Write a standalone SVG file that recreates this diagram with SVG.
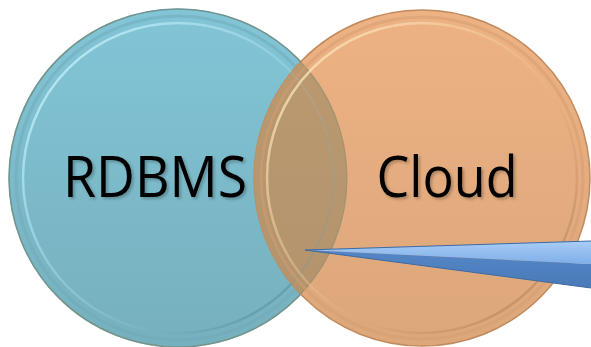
<svg xmlns="http://www.w3.org/2000/svg" width="591" height="347" viewBox="0 0 591 347">
<style>
.lbl{font-family:"Open Sans","Noto Sans","Liberation Sans",sans-serif;font-size:56px;fill:#000;filter:url(#txtShadow)}
</style>
<defs>
<filter id="txtShadow" x="-10%" y="-20%" width="130%" height="150%">
<feDropShadow dx="2" dy="2" stdDeviation="1.5" flood-color="#000" flood-opacity="0.25"/>
</filter>
<linearGradient id="gBlue" x1="0" y1="0" x2="0" y2="1">
<stop offset="0" stop-color="#82c5d7"/>
<stop offset="1" stop-color="#76b0bd"/>
</linearGradient>
<linearGradient id="gOrange" x1="0" y1="0" x2="0" y2="1">
<stop offset="0" stop-color="#edb284"/>
<stop offset="1" stop-color="#dca77a"/>
</linearGradient>
<linearGradient id="gLens" x1="0" y1="0" x2="0" y2="1">
<stop offset="0" stop-color="#bc9a70"/>
<stop offset="1" stop-color="#b1936d"/>
</linearGradient>
<linearGradient id="rimBlue" x1="0" y1="0" x2="1" y2="1">
<stop offset="0" stop-color="#c8f4ff" stop-opacity="0.95"/>
<stop offset="0.5" stop-color="#9fd6e4" stop-opacity="0.4"/>
<stop offset="1" stop-color="#3d7f90" stop-opacity="0.7"/>
</linearGradient>
<linearGradient id="rimOrange" x1="0" y1="0" x2="1" y2="1">
<stop offset="0" stop-color="#fff0c8" stop-opacity="0.95"/>
<stop offset="0.5" stop-color="#f0c090" stop-opacity="0.4"/>
<stop offset="1" stop-color="#9a6a40" stop-opacity="0.6"/>
</linearGradient>
<clipPath id="clipBlue"><circle cx="178" cy="178" r="169"/></clipPath>
<linearGradient id="gConeTop" x1="0" y1="0" x2="0" y2="1">
<stop offset="0" stop-color="#a9cdf6"/>
<stop offset="1" stop-color="#7eaee8"/>
</linearGradient>
<linearGradient id="gConeBot" x1="0" y1="0" x2="0" y2="1">
<stop offset="0" stop-color="#5485c6"/>
<stop offset="1" stop-color="#4a7bb8"/>
</linearGradient>
</defs>

<g id="rdbms">
<circle cx="178" cy="178" r="169" fill="url(#gBlue)" stroke="#5f9fae" stroke-width="1.5"/>
<circle cx="178" cy="178" r="162" fill="none" stroke="#6fa9b8" stroke-width="3" opacity="0.5"/>
<circle cx="178" cy="178" r="155" fill="none" stroke="url(#rimBlue)" stroke-width="2.5"/>
<text class="lbl" x="155" y="197" text-anchor="middle" textLength="184" lengthAdjust="spacingAndGlyphs">RDBMS</text>
</g>

<g id="cloud">
<circle cx="422" cy="178" r="168" fill="url(#gOrange)" stroke="#c08a5c" stroke-width="1.5"/>
<circle cx="422" cy="178" r="168" fill="url(#gLens)" clip-path="url(#clipBlue)"/>
<circle cx="178" cy="178" r="169" fill="none" stroke="#8a8a6a" stroke-width="1.2" opacity="0.6"/>
<circle cx="178" cy="178" r="155" fill="none" stroke="url(#rimBlue)" stroke-width="2" opacity="0.35" clip-path="url(#clipBlue)"/>
<circle cx="422" cy="178" r="161" fill="none" stroke="#d49e70" stroke-width="3" opacity="0.5"/>
<circle cx="422" cy="178" r="155" fill="none" stroke="url(#rimOrange)" stroke-width="2.5"/>
<text class="lbl" x="447" y="197" text-anchor="middle" textLength="141" lengthAdjust="spacingAndGlyphs">Cloud</text>
</g>

<g id="connectors">
<polygon points="305,250 591,241 591,264" fill="url(#gConeTop)"/>
<polygon points="305,250 591,264 591,288" fill="url(#gConeBot)"/>
<polyline points="591,241 305,250 591,288" fill="none" stroke="#3d6aa5" stroke-width="1"/>
</g>
</svg>
